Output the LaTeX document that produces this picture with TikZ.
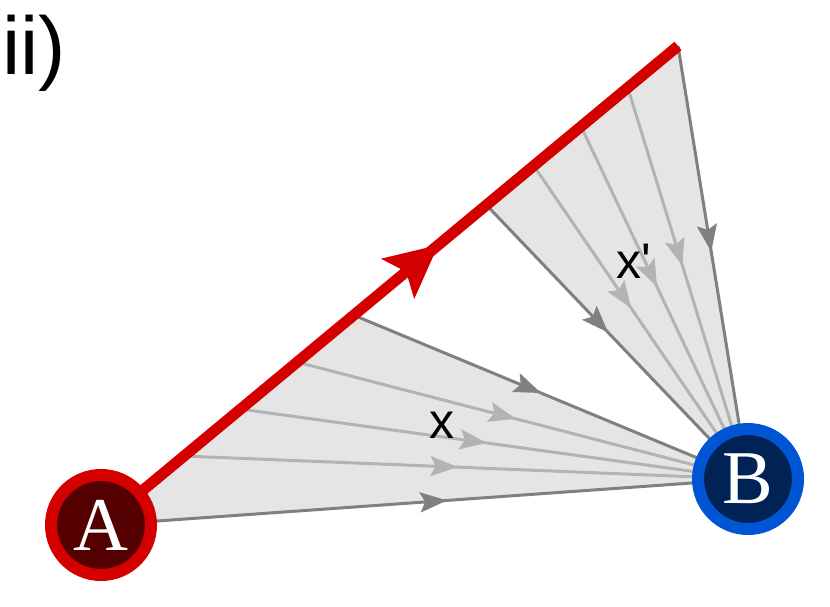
\documentclass[tikz,border=0pt]{standalone}
\usepackage{fontspec}
\setmainfont{Liberation Serif}
\newfontfamily\semserifa{Liberation Sans}
\usetikzlibrary{arrows.meta,calc,decorations.markings,backgrounds}

\definecolor{vermelho}{HTML}{D40000}
\definecolor{vinho}{HTML}{550000}
\definecolor{azul}{HTML}{0055D4}
\definecolor{marinho}{HTML}{002255}
\definecolor{cinzaescuro}{HTML}{808080}
\definecolor{cinzaclaro}{HTML}{B3B3B3}
\definecolor{fundoleque}{HTML}{E5E5E5}

\begin{document}
\begin{tikzpicture}[
        x=1pt, y=-1pt,
        % Estilo dos pontos A e B
        ponto/.style = {
            circle,
            minimum size=100pt,
            inner sep=0pt,
            line width=12pt,
            text=white,
            font=\fontsize{76}{76}\selectfont
        },
        % Seta no meio de um caminho
        seta meio/.style = {
            postaction={decorate, decoration={markings,
                mark=at position #1 with {\arrow{Stealth[length=27pt,width=20pt,inset=5pt]}}}}
        },
        % Estilo dos raios
        raio escuro/.style = {draw=cinzaescuro, line width=3pt, seta meio=#1},
        raio claro/.style = {draw=cinzaclaro, line width=3pt, seta meio=#1},
        leque/.style = {fill=fundoleque},
        % Caminho vermelho
        trajeto/.style = {
            draw=vermelho,
            line width=11pt,
            postaction={decorate, decoration={markings,
                mark=at position 0.585 with {\arrow{Stealth[length=52pt,width=50pt,inset=10pt]}}}}
        },
        rotulo/.style = {font=\semserifa\fontsize{50}{50}\selectfont, inner sep=0pt}
    ]
    \useasboundingbox (0,0) rectangle (830,606);

    % Titulo
    \node[font=\semserifa\fontsize{82}{82}\selectfont, inner sep=0pt, anchor=base west] (titulo) at (2,74) {ii)};

    % Pontos
    \node[ponto, draw=vermelho, fill=vinho] (A) at (101,525) {A};
    \node[ponto, draw=azul, fill=marinho] (B) at (748,479) {B};
    \coordinate (T) at (678,46);

    % Rotulos
    \node[rotulo, anchor=base] (x) at (442,438) {x};
    \node[rotulo, anchor=base] (xlinha) at (634,278) {x\textquotesingle};

    \begin{pgfonlayer}{background}
        % Leques
        \fill[leque] (A.center) -- ($(A.center)!0.438!(T)$) -- (B.center) -- cycle;
        \fill[leque] ($(A.center)!0.668!(T)$) -- (T) -- (B.center) -- cycle;
        % Raios de baixo
        \draw[raio escuro=0.535] (A.center) -- (B.center);
        \foreach \t in {0.144,0.242,0.340}
            \draw[raio claro=0.485] ($(A.center)!\t!(T)$) -- (B.center);
        \draw[raio escuro=0.475] ($(A.center)!0.438!(T)$) -- (B.center);
        % Raios de cima
        \draw[raio escuro=0.465] ($(A.center)!0.668!(T)$) -- (B.center);
        \foreach \t in {0.750,0.832,0.913}
            \draw[raio claro=0.455] ($(A.center)!\t!(T)$) -- (B.center);
        \draw[raio escuro=0.475] (T) -- (B.center);
        % Caminho de A
        \draw[trajeto] (A.center) -- (T);
    \end{pgfonlayer}
\end{tikzpicture}
\end{document}
